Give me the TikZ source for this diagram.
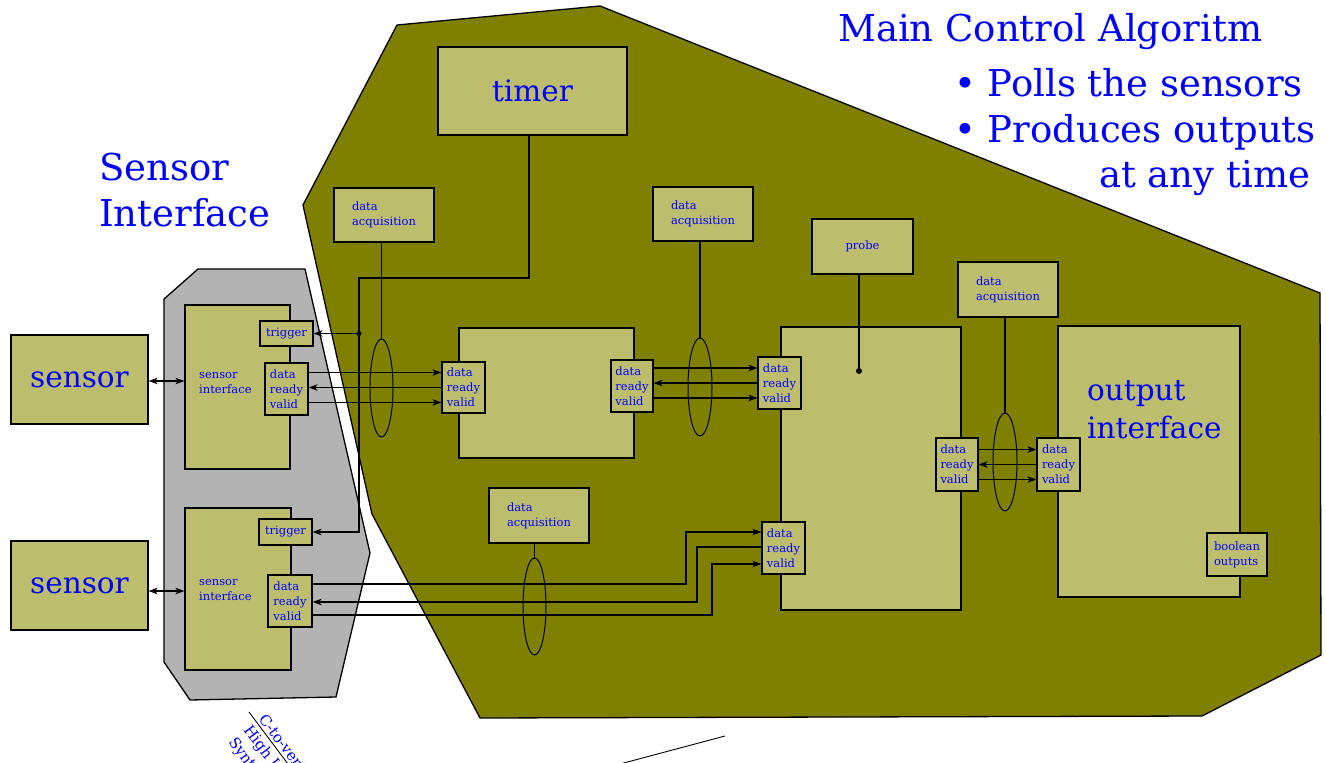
\documentclass[tikz,border=0pt]{standalone}
\usepackage{fontspec}
\setmainfont{DejaVu Serif}
\usetikzlibrary{arrows.meta,shapes.geometric,calc}
\definecolor{olivebg}{RGB}{128,128,0}
\definecolor{boxfill}{RGB}{189,189,110}
\definecolor{grayfill}{RGB}{179,179,179}
\definecolor{txt}{RGB}{0,0,255}
\newcommand\fsSmall{\fontsize{11.5}{15}\selectfont}
\newcommand\fsMid{\fontsize{29.5}{38}\selectfont}
\newcommand\fsBig{\fontsize{37}{46}\selectfont}
\newcommand\fsRot{\fontsize{15}{19}\selectfont}
\tikzset{
  region/.style={draw=black, line width=1.3pt, line join=miter},
  box/.style={draw=black, fill=boxfill, line width=1.2pt, inner sep=0pt, text=txt, align=left, font=\fsSmall},
  bigbox/.style={box, font=\fsMid},
  lbl/.style={text=txt, inner sep=0pt, anchor=base west},
  oval/.style={draw=black, ellipse, line width=1pt, inner sep=0pt},
  wire/.style={draw=black, line width=1.1pt},
  sig/.style={wire, line join=miter, -{Stealth[length=9pt,width=6.5pt,inset=2.5pt]}},
  dsig/.style={wire, {Stealth[length=9pt,width=6.5pt,inset=2.5pt]}-{Stealth[length=9pt,width=6.5pt,inset=2.5pt]}},
}
\newcommand\busdraw[2]{%
  \coordinate (#2-d) at ([yshift=15pt]#2.west);
  \coordinate (#2-r) at (#2.west);
  \coordinate (#2-v) at ([yshift=-15pt]#2.west);
  \draw[sig] (#1.east |- #2-d) -- (#2-d);
  \draw[sig] (#2-r) -- (#1.east |- #2-r);
  \draw[sig] (#1.east |- #2-v) -- (#2-v);
}
\begin{document}
\begin{tikzpicture}[x=1pt,y=-1pt]
\useasboundingbox (0,0) rectangle (1326,763);
% regions
\draw[region, fill=grayfill] (198,269) -- (305,269) -- (370,553) -- (336,697) -- (190,700) -- (164,662) -- (164,299) -- cycle;
\draw[region, fill=olivebg] (303,205) -- (397,25) -- (600,6) -- (1320,293) -- (1321,655) -- (1202,716) -- (480,718) -- (372,514) -- cycle;

% titles
\node[lbl, font=\fsBig] (t1) at (838,41) {Main Control Algoritm};
\node[lbl, font=\fsBig] (t2) at (954,96) {\textbullet\ Polls the sensors};
\node[lbl, font=\fsBig] (t3) at (954,142) {\textbullet\ Produces outputs};
\node[lbl, font=\fsBig] (t4) at (1099,187) {at any time};
\node[lbl, font=\fsBig] (s1t) at (99,180) {Sensor};
\node[lbl, font=\fsBig] (s2t) at (99,226) {Interface};

% sensors and sensor interfaces
\node[bigbox, minimum width=137, minimum height=89] (sen1) at (79.5,379.5) {sensor};
\node[bigbox, minimum width=137, minimum height=89] (sen2) at (79.5,585.5) {sensor};
\node[box, minimum width=105, minimum height=164] (si1) at (237.5,387) {};
\node[box, minimum width=106, minimum height=162] (si2) at (238,589) {};
\node[lbl, font=\fsSmall] (si1a) at (199,378) {sensor};
\node[lbl, font=\fsSmall] (si1b) at (199,393) {interface};
\node[lbl, font=\fsSmall] (si2a) at (199,585) {sensor};
\node[lbl, font=\fsSmall] (si2b) at (199,600) {interface};
\node[box, minimum width=53, minimum height=25] (trig1) at (286.5,333.5) {trigger};
\node[box, minimum width=53, minimum height=26] (trig2) at (285.5,532) {trigger};
\node[box, minimum width=43, minimum height=52] (si1p) at (286.5,389) {data\\ready\\valid};
\node[box, minimum width=44, minimum height=52] (si2p) at (290,601) {data\\ready\\valid};

% main blocks
\node[bigbox, minimum width=189, minimum height=88] (timer) at (532.5,91) {timer};
\node[box, minimum width=100, minimum height=54] (da1) at (384,215) {data\\acquisition};
\node[box, minimum width=100, minimum height=54] (da2) at (703,214) {data\\acquisition};
\node[box, minimum width=100, minimum height=55] (da3) at (1008,289.5) {data\\acquisition};
\node[box, minimum width=100, minimum height=55] (da4) at (539,515.5) {data\\acquisition};
\node[box, minimum width=101, minimum height=55] (probe) at (862.5,246.5) {probe};
\node[box, minimum width=175, minimum height=130] (b1) at (546.5,393) {};
\node[box, minimum width=180, minimum height=283] (b2) at (871,468.5) {};
\node[box, minimum width=182, minimum height=271] (oi) at (1149,461.5) {};
\node[lbl, font=\fsMid] (oia) at (1087,400) {output};
\node[lbl, font=\fsMid] (oib) at (1087,438) {interface};
\node[box, minimum width=43, minimum height=51] (b1l) at (463.5,387.5) {data\\ready\\valid};
\node[box, minimum width=42, minimum height=52] (b1r) at (632,386) {data\\ready\\valid};
\node[box, minimum width=43, minimum height=52] (b2tl) at (779.5,383) {data\\ready\\valid};
\node[box, minimum width=43, minimum height=52] (b2bl) at (783.5,548) {data\\ready\\valid};
\node[box, minimum width=42, minimum height=53] (b2r) at (957,464.5) {data\\ready\\valid};
\node[box, minimum width=43, minimum height=53] (oil) at (1058.5,464.5) {data\\ready\\valid};
\node[box, minimum width=60, minimum height=43] (bool) at (1237,554.5) {boolean\\outputs};

% ellipses
\node[oval, minimum width=23, minimum height=98] (e1) at (381.5,388) {};
\node[oval, minimum width=24, minimum height=98] (e2) at (700,387) {};
\node[oval, minimum width=24, minimum height=98] (e3) at (1005,462) {};
\node[oval, minimum width=23, minimum height=97] (e4) at (534.5,606.5) {};
\draw[wire] (e1.north) -- (e1.north |- da1.south);
\draw[wire] (e2.north) -- (e2.north |- da2.south);
\draw[wire] (e3.north) -- (e3.north |- da3.south);
\draw[wire] (e4.north) -- (e4.north |- da4.south);

% probe
\coordinate (pdot) at (859,371);
\draw[wire] (pdot |- probe.south) -- (pdot);
\fill (pdot) circle (3pt);

% sensors to interfaces
\draw[dsig] (sen1.east |- 0,381) -- (si1.west |- 0,381);
\draw[dsig] (sen2.east |- 0,591) -- (si2.west |- 0,591);

% timer to triggers
\coordinate (tk) at (359,278);
\draw[sig] ([xshift=-3.5pt]timer.south) |- (tk) |- (trig2.east);
\coordinate (tdot) at (tk |- trig1.east);
\fill (tdot) circle (2.5pt);
\draw[sig] (tdot) -- (trig1.east);

% buses
\busdraw{si1p}{b1l}
\busdraw{b1r}{b2tl}
\busdraw{b2r}{oil}

\coordinate (b2bl-d) at ([yshift=16pt]b2bl.west);
\coordinate (b2bl-r) at ([yshift=1pt]b2bl.west);
\coordinate (b2bl-v) at ([yshift=-16pt]b2bl.west);
\coordinate (si2p-d) at ([yshift=17pt]si2p.east);
\coordinate (si2p-r) at ([yshift=-1pt]si2p.east);
\coordinate (si2p-v) at ([yshift=-14pt]si2p.east);
\coordinate (k1) at (686,560);
\coordinate (k2) at (697,575);
\coordinate (k3) at (712,590);
\draw[sig] (si2p-d) -| (k1) |- (b2bl-d);
\draw[sig] (b2bl-r) -| (k2) |- (si2p-r);
\draw[sig] (si2p-v) -| (k3) |- (b2bl-v);

% clipped fragments at the bottom
\begin{scope}
\clip (0,0) rectangle (1326,763);
\node[lbl, font=\fsRot, rotate=-53] (h1) at (258,719) {C-to-verilog};
\node[lbl, font=\fsRot, rotate=-53] (h2) at (243,730) {High Level};
\node[lbl, font=\fsRot, rotate=-53] (h3) at (228,742) {Synthesis};
\draw[wire, line width=0.9pt] (249,712) -- ++(60,80);
\draw[wire, line width=0.9pt] (725,736) -- (605,768);
\end{scope}
\end{tikzpicture}
\end{document}
